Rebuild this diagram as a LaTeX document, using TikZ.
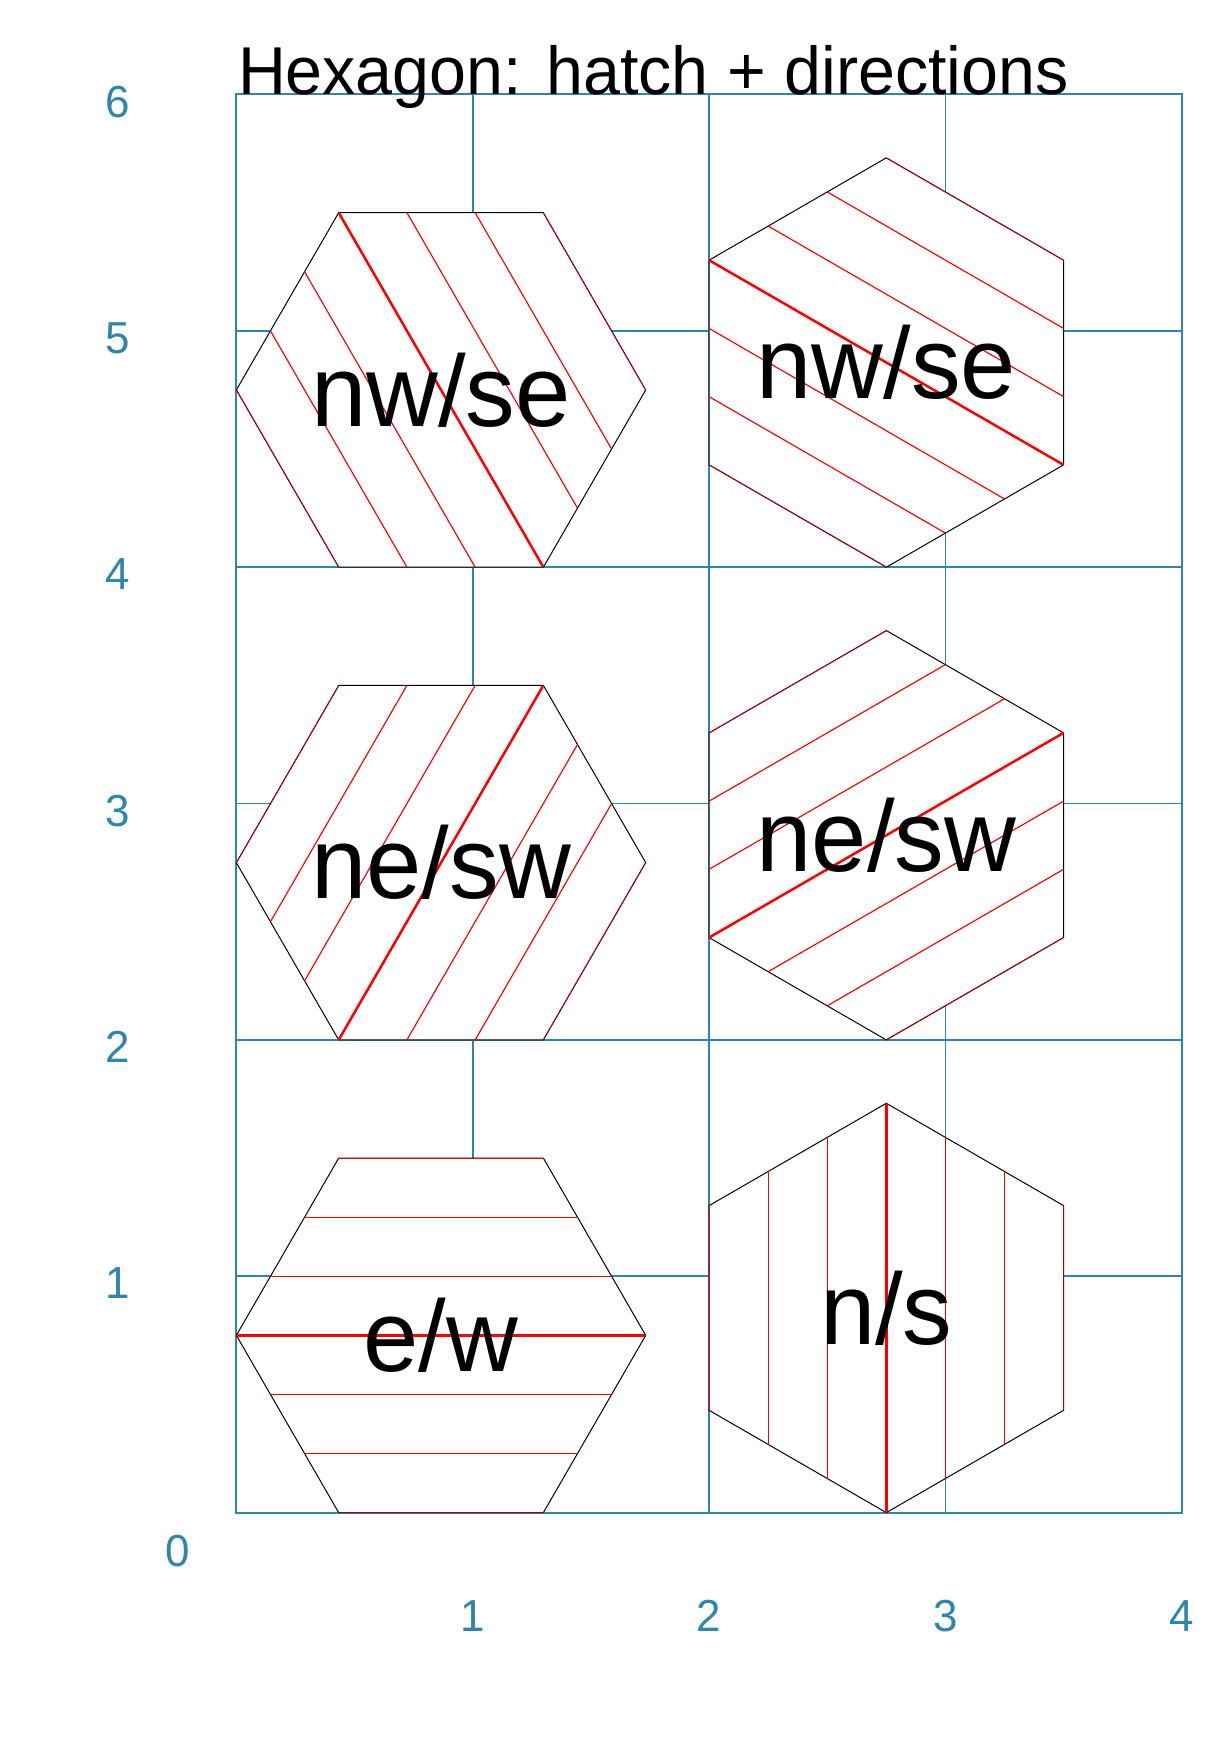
\documentclass[tikz,border=0pt]{standalone}
\usepackage{fontspec}
\setmainfont[FakeStretch=0.98]{Liberation Sans}
\definecolor{axisblue}{RGB}{46,134,171}
\tikzset{
	gridline/.style={draw=axisblue, line width=0.2pt},
	frameline/.style={draw=axisblue, line width=0.24pt},
	hexcell/.style={draw=black, fill=white, line width=0.12pt},
	hatchline/.style={draw=red, line width=0.14pt},
	midline/.style={draw=red, line width=0.3pt},
	ticklabel/.style={text=axisblue, inner sep=0pt, font=\fontsize{5.4}{6.5}\selectfont},
	hexlabel/.style={inner sep=0pt, font=\fontsize{12.2}{14}\selectfont}
}
\begin{document}
\begin{tikzpicture}
	\useasboundingbox (-1,-1) rectangle (4.2,6.4);
	% grid behind the cells
	\draw [gridline] (0,0) grid (4,6);
	\draw [frameline] (0,0) rectangle (4,6);
	% hexagons: centre x / centre y / turn of the hexagon / angle of the hatch
	\foreach \cx/\cy/\turn/\ang in {0.866/4.75/0/120, 2.75/4.866/30/150, 0.866/2.75/0/60, 2.75/2.866/30/30, 0.866/0.75/0/0, 2.75/0.866/30/90} {
		\begin{scope}[shift={(\cx,\cy)}]
			\draw [hexcell, rotate=\turn] (0:0.866) -- (60:0.866) -- (120:0.866) -- (180:0.866) -- (240:0.866) -- (300:0.866) -- cycle;
			\clip [rotate=\turn] (0:0.866) -- (60:0.866) -- (120:0.866) -- (180:0.866) -- (240:0.866) -- (300:0.866) -- cycle;
			\foreach \d in {-0.75,-0.5,...,0.75}
				\draw [hatchline, rotate=\ang] (-1,\d) -- (1,\d);
			\draw [midline, rotate=\ang] (-1,0) -- (1,0);
		\end{scope}
	}
	\node [hexlabel] (nwseflat) at (0.866,4.75) {nw/se};
	\node [hexlabel] (nwsepointy) at (2.75,4.866) {nw/se};
	\node [hexlabel] (neswflat) at (0.866,2.75) {ne/sw};
	\node [hexlabel] (neswpointy) at (2.75,2.866) {ne/sw};
	\node [hexlabel] (ew) at (0.866,0.75) {e/w};
	\node [hexlabel] (ns) at (2.75,0.866) {n/s};
	% title and axis numbers
	\node [anchor=base west, inner sep=0pt, font=\fontsize{8.15}{9.5}\selectfont] (title) at (0,6) {Hexagon: hatch + directions};
	\foreach \k in {1,...,6}
		\node [ticklabel] (ylab\k) at (-0.5,\k-0.03) {\k};
	\foreach \k in {1,...,4}
		\node [ticklabel] (xlab\k) at (\k,-0.436) {\k};
	\node [ticklabel] (origin) at (-0.247,-0.164) {0};
\end{tikzpicture}
\end{document}
